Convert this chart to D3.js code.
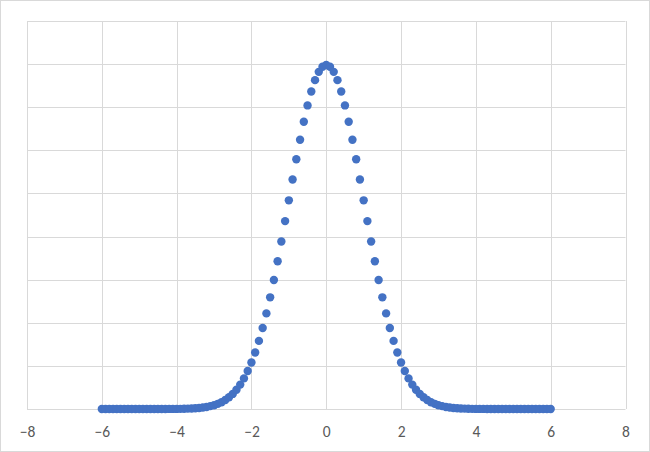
<!DOCTYPE html>
<html><head><meta charset="utf-8">
<script src="https://cdn.jsdelivr.net/npm/d3@7"></script>
<style>html,body{margin:0;padding:0;background:#fff;}svg{display:block;}</style>
</head><body>
<svg id="chart" width="650" height="452"></svg>
<script>
const xValues = [-6.0,-5.9,-5.8,-5.7,-5.6,-5.5,-5.4,-5.3,-5.2,-5.1,-5.0,-4.9,-4.8,-4.7,-4.6,-4.5,-4.4,-4.3,-4.2,-4.1,
-4.0,-3.9,-3.8,-3.7,-3.6,-3.5,-3.4,-3.3,-3.2,-3.1,-3.0,-2.9,-2.8,-2.7,-2.6,-2.5,-2.4,-2.3,-2.2,-2.1,
-2.0,-1.9,-1.8,-1.7,-1.6,-1.5,-1.4,-1.3,-1.2,-1.1,-1.0,-0.9,-0.8,-0.7,-0.6,-0.5,-0.4,-0.3,-0.2,-0.1,
0.0,0.1,0.2,0.3,0.4,0.5,0.6,0.7,0.8,0.9,1.0,1.1,1.2,1.3,1.4,1.5,1.6,1.7,1.8,1.9,
2.0,2.1,2.2,2.3,2.4,2.5,2.6,2.7,2.8,2.9,3.0,3.1,3.2,3.3,3.4,3.5,3.6,3.7,3.8,3.9,
4.0,4.1,4.2,4.3,4.4,4.5,4.6,4.7,4.8,4.9,5.0,5.1,5.2,5.3,5.4,5.5,5.6,5.7,5.8,5.9,6.0];
const yValues = [0,0,0,0,0,0,0,0,0,0,0,0,0,0,0,0,0,0,0.0001,0.0001,
0.0001,0.0002,0.0003,0.0004,0.0006,0.0009,0.0012,0.0017,0.0024,0.0033,0.0044,0.0060,0.0079,0.0104,0.0136,0.0175,0.0224,0.0283,0.0355,0.0440,
0.0540,0.0656,0.0790,0.0940,0.1109,0.1295,0.1497,0.1714,0.1942,0.2179,0.2420,0.2661,0.2897,0.3123,0.3332,0.3521,0.3683,0.3814,0.3910,0.3970,
0.3989,0.3970,0.3910,0.3814,0.3683,0.3521,0.3332,0.3123,0.2897,0.2661,0.2420,0.2179,0.1942,0.1714,0.1497,0.1295,0.1109,0.0940,0.0790,0.0656,
0.0540,0.0440,0.0355,0.0283,0.0224,0.0175,0.0136,0.0104,0.0079,0.0060,0.0044,0.0033,0.0024,0.0017,0.0012,0.0009,0.0006,0.0004,0.0003,0.0002,
0.0001,0.0001,0.0001,0,0,0,0,0,0,0,0,0,0,0,0,0,0,0,0,0,0];
const xTicks = [-8,-6,-4,-2,0,2,4,6,8];
const yTicks = [0,0.05,0.1,0.15,0.2,0.25,0.3,0.35,0.4,0.45];

const svg = d3.select("#chart");
const W = 650, H = 452;
const pLeft = 27, pRight = 625.5, pTop = 21, pBottom = 409;

svg.append("rect").attr("x",0.5).attr("y",0.5).attr("width",W-1).attr("height",H-1)
  .attr("fill","#fff").attr("stroke","#d9d9d9");

const x = d3.scaleLinear().domain([-8,8]).range([pLeft,pRight]);
const y = d3.scaleLinear().domain([0,0.45]).range([pBottom,pTop]);

const g = svg.append("g");
g.selectAll("line.vg").data(xTicks).enter().append("line")
  .attr("x1",d=>Math.round(x(d))+0.5).attr("x2",d=>Math.round(x(d))+0.5)
  .attr("y1",pTop).attr("y2",pBottom).attr("stroke","#d9d9d9").attr("stroke-width",1);
g.selectAll("line.hg").data(yTicks).enter().append("line")
  .attr("y1",d=>Math.round(y(d))+0.5).attr("y2",d=>Math.round(y(d))+0.5)
  .attr("x1",pLeft).attr("x2",pRight).attr("stroke","#d9d9d9").attr("stroke-width",1);

const xAxis = d3.axisBottom(x).tickValues(xTicks).tickSize(0).tickPadding(0).tickFormat(d3.format("d"));
const ax = svg.append("g").attr("transform",`translate(0,${pBottom})`).call(xAxis);
ax.select(".domain").remove();
ax.selectAll("text").attr("dy",null).attr("y",28).attr("fill","#595959")
  .style("font-family","Carlito, 'Liberation Sans', Arial, sans-serif").style("font-size","15.5px");

const pts = xValues.map((v,i)=>({x:v,y:yValues[i]}));
svg.append("g").selectAll("circle").data(pts).enter().append("circle")
  .attr("cx",d=>x(d.x)).attr("cy",d=>y(d.y)).attr("r",4.2).attr("fill","#4472c4");
</script>
</body></html>
